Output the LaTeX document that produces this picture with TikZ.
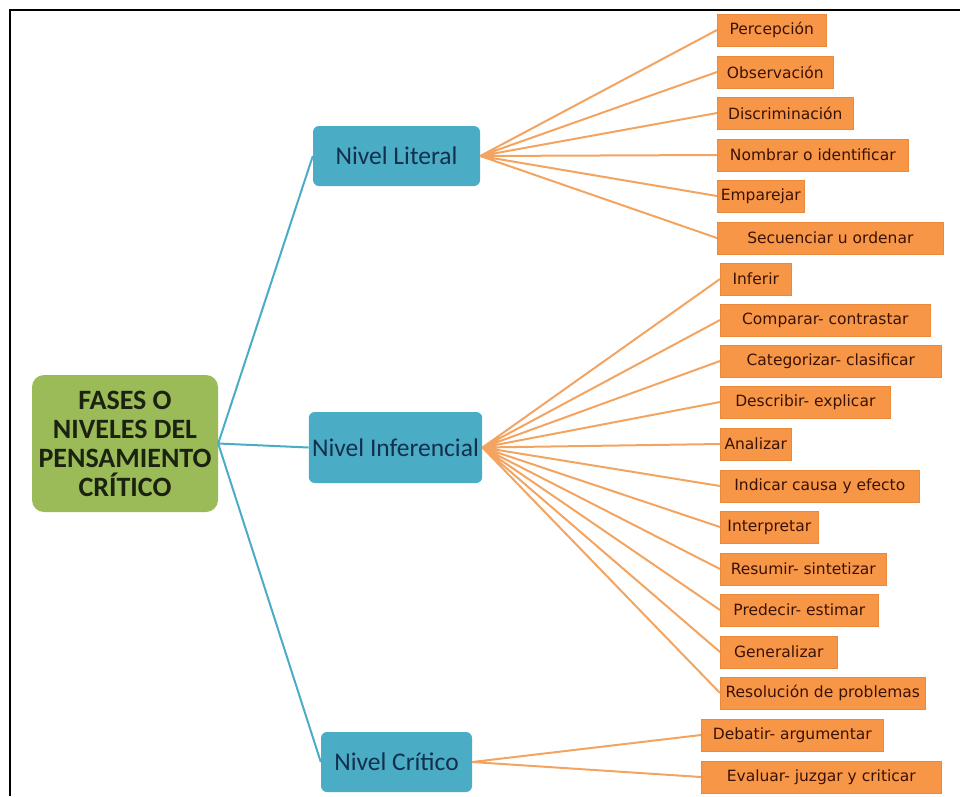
\documentclass[tikz,border=0pt]{standalone}
\usepackage{fontspec}
\setmainfont{Carlito}
\newfontfamily\leaffont{DejaVu Sans}
\usepackage{xcolor}
\usetikzlibrary{positioning}
\definecolor{rootgreen}{HTML}{9BBB59}
\definecolor{roottext}{HTML}{1B220F}
\definecolor{levelblue}{HTML}{4BACC6}
\definecolor{leveltext}{HTML}{132F4C}
\definecolor{leaforange}{HTML}{F79646}
\definecolor{leafedge}{HTML}{E8893C}
\definecolor{leaftext}{HTML}{3B1206}
\definecolor{linkorange}{HTML}{F3A461}
\tikzset{
  root/.style = {fill=rootgreen, rounded corners=12pt, minimum width=186pt, minimum height=137pt,
                 align=center, text=roottext, font=\fontsize{28}{29}\selectfont\bfseries},
  level/.style = {fill=levelblue, rounded corners=6pt, minimum height=60pt,
                  text=leveltext, font=\fontsize{25.5}{28}\selectfont},
  leaf/.style = {fill=leaforange, draw=leafedge, line width=0.6pt, anchor=west, minimum height=32pt,
                 inner xsep=3pt, text=leaftext, font=\leaffont\fontsize{15.5}{17}\selectfont},
  blueline/.style = {levelblue, line width=2pt},
  link/.style = {linkorange, line width=2pt}
}

\begin{document}
\begin{tikzpicture}[x=1pt, y=-1pt]
\useasboundingbox (0,0) rectangle (960,796);
\draw[line width=2pt] (10,796) -- (10,10) -- (960,10);

\node[root] (root) at (125,443.5) {FASES O\\NIVELES DEL\\PENSAMIENTO\\CRÍTICO};
\node[level, minimum width=167pt] (lit) at (396.5,156) {Nivel Literal};
\node[level, minimum width=169pt, minimum height=71pt] (inf) at (395.5,447.5) {Nivel Inferencial};
\node[level, minimum width=151pt] (cri) at (396.5,762) {Nivel Crítico};

% nivel literal
\node[leaf, minimum width=109pt] (perc) at (717,30) {Percepción};
\node[leaf, minimum width=116pt] (obs) at (717,72) {Observación};
\node[leaf, minimum width=136pt] (disc) at (717,113) {Discriminación};
\node[leaf, minimum width=191pt] (nomb) at (717,155) {Nombrar o identificar};
\node[leaf, minimum width=87pt] (empa) at (717,196) {Emparejar};
\node[leaf, minimum width=226pt] (secu) at (717,238) {Secuenciar u ordenar};

% nivel inferencial
\node[leaf, minimum width=71pt] (infe) at (720,279) {Inferir};
\node[leaf, minimum width=210pt] (comp) at (720,320) {Comparar- contrastar};
\node[leaf, minimum width=221pt] (cate) at (720,361) {Categorizar- clasificar};
\node[leaf, minimum width=170pt] (desc) at (720,402) {Describir- explicar};
\node[leaf, minimum width=71pt] (anal) at (720,444) {Analizar};
\node[leaf, minimum width=199pt] (indi) at (720,486) {Indicar causa y efecto};
\node[leaf, minimum width=98pt] (inte) at (720,527) {Interpretar};
\node[leaf, minimum width=166pt] (resu) at (720,569) {Resumir- sintetizar};
\node[leaf, minimum width=158pt] (pred) at (720,610) {Predecir- estimar};
\node[leaf, minimum width=117pt] (gene) at (720,652) {Generalizar};
\node[leaf, minimum width=205pt] (reso) at (720,693) {Resolución de problemas};

% nivel critico
\node[leaf, minimum width=182pt] (deba) at (701,735) {Debatir- argumentar};
\node[leaf, minimum width=240pt] (eval) at (701,777) {Evaluar- juzgar y criticar};

\draw[blueline] (root.east) -- (lit.west);
\draw[blueline] (root.east) -- (inf.west);
\draw[blueline] (root.east) -- (cri.west);

\draw[link] (lit.east) -- (perc.west) (lit.east) -- (obs.west) (lit.east) -- (disc.west)
            (lit.east) -- (nomb.west) (lit.east) -- (empa.west) (lit.east) -- (secu.west);
\draw[link] (inf.east) -- (infe.west) (inf.east) -- (comp.west) (inf.east) -- (cate.west)
            (inf.east) -- (desc.west) (inf.east) -- (anal.west) (inf.east) -- (indi.west)
            (inf.east) -- (inte.west) (inf.east) -- (resu.west) (inf.east) -- (pred.west)
            (inf.east) -- (gene.west) (inf.east) -- (reso.west);
\draw[link] (cri.east) -- (deba.west) (cri.east) -- (eval.west);
\end{tikzpicture}
\end{document}
